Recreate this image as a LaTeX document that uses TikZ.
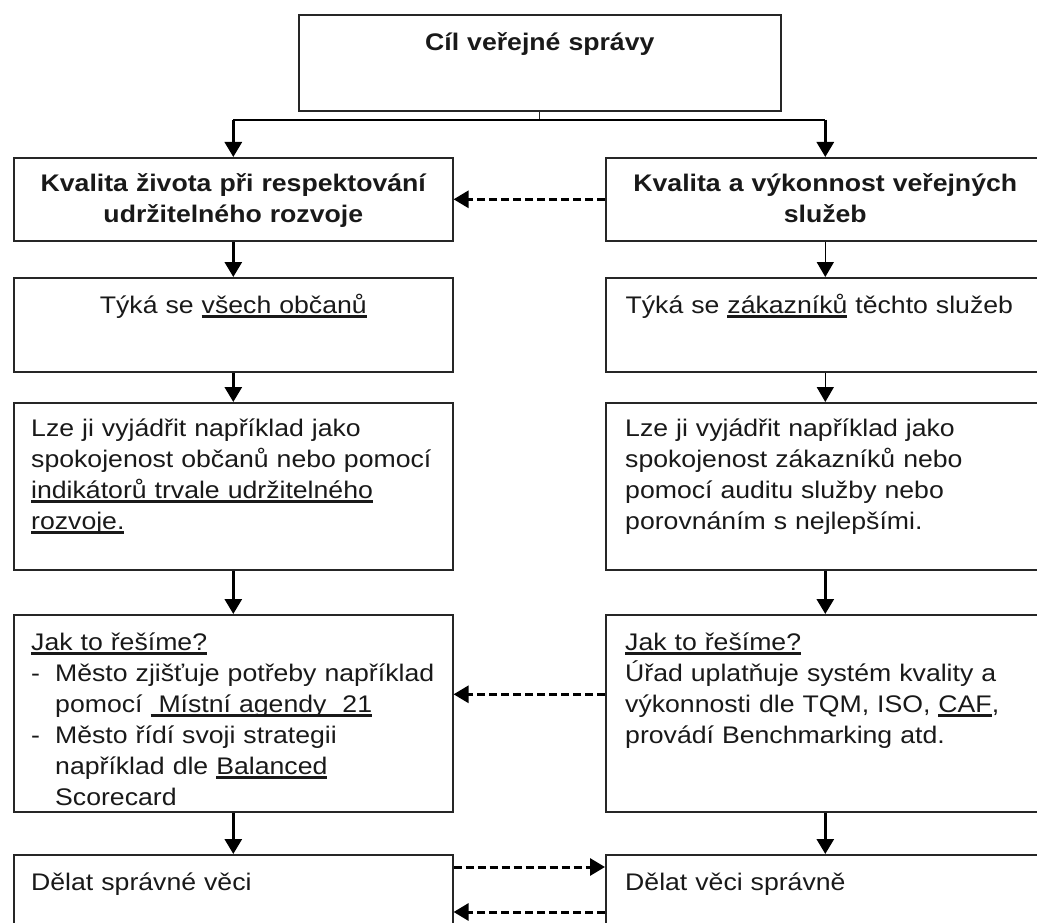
\documentclass[tikz,border=0pt]{standalone}
\usepackage{fontspec}
\setmainfont{Liberation Sans}[FakeStretch=1.11]
\usetikzlibrary{arrows.meta}
\newcommand{\ulx}[1]{\leavevmode\setbox0=\hbox{#1}\rlap{\rule[-4.5pt]{\wd0}{2.2pt}}\box0{}}

\begin{document}
\begin{tikzpicture}[x=1pt,y=-1pt,
  every node/.style={font=\fontsize{24}{31}\selectfont, text=black!90},
  box/.style={draw=black!85, line width=1.6pt, minimum width=439pt, anchor=north west, inner sep=0pt},
  txt/.style={anchor=base west, text width=420pt, align=left, inner sep=0pt},
  ctxt/.style={anchor=base, text width=430pt, align=center, inner sep=0pt},
  btxt/.style={ctxt, font=\fontsize{24}{31}\selectfont\bfseries},
  arr/.style={-{Triangle[width=17pt,length=15pt]}, line width=3pt},
  tarr/.style={arr, line width=1.5pt},
  darr/.style={arr, line width=3pt, dash pattern=on 8pt off 4pt}]
  \useasboundingbox (0,0) rectangle (1037,923);
  \clip (0,0) rectangle (1037,923);

  % boxes
  \node[box, minimum width=482pt, minimum height=96pt] (cil) at (298,14) {};
  \node[box, minimum height=83pt] (l2) at (13,157) {};
  \node[box, minimum height=83pt] (r2) at (605,157) {};
  \node[box, minimum height=94pt] (l3) at (13,277) {};
  \node[box, minimum height=94pt] (r3) at (605,277) {};
  \node[box, minimum height=167pt] (l4) at (13,402) {};
  \node[box, minimum height=167pt] (r4) at (605,402) {};
  \node[box, minimum height=197pt] (l5) at (13,614) {};
  \node[box, minimum height=197pt] (r5) at (605,614) {};
  \node[box, minimum height=110pt] (l6) at (13,854) {};
  \node[box, minimum height=110pt] (r6) at (605,854) {};

  % texts
  \node[btxt] (tcil) at ([yshift=-37pt]cil.north) {Cíl veřejné správy};
  \node[btxt] (tl2) at ([yshift=-35pt]l2.north) {Kvalita života při respektování\\udržitelného rozvoje};
  \node[btxt] (tr2) at ([yshift=-35pt]r2.north) {Kvalita a výkonnost veřejných\\služeb};
  \node[ctxt] (tl3) at ([yshift=-36pt]l3.north) {Týká se \ulx{všech občanů}};
  \node[ctxt] (tr3) at ([xshift=-6pt,yshift=-36pt]r3.north) {Týká se \ulx{zákazníků} těchto služeb};
  \node[txt] (tl4) at ([xshift=18pt,yshift=-34pt]l4.north west)
    {Lze ji vyjádřit například jako\\spokojenost občanů nebo pomocí\\\ulx{indikátorů trvale udržitelného}\\\ulx{rozvoje.}};
  \node[txt] (tr4) at ([xshift=20pt,yshift=-34pt]r4.north west)
    {Lze ji vyjádřit například jako\\spokojenost zákazníků nebo\\pomocí auditu služby nebo\\porovnáním s nejlepšími.};
  \node[txt] (tl5) at ([xshift=18pt,yshift=-36pt]l5.north west)
    {\ulx{Jak to řešíme?}\\
     \makebox[24pt][l]{-}Město zjišťuje potřeby například\\
     \hspace*{24pt}pomocí \ulx{ Místní agendy~~21}\\
     \makebox[24pt][l]{-}Město řídí svoji strategii\\
     \hspace*{24pt}například dle \ulx{Balanced}\\
     \hspace*{24pt}Scorecard};
  \node[txt] (tr5) at ([xshift=20pt,yshift=-36pt]r5.north west)
    {\ulx{Jak to řešíme?}\\Úřad uplatňuje systém kvality a\\výkonnosti dle TQM, ISO, \ulx{CAF},\\provádí Benchmarking atd.};
  \node[txt] (tl6) at ([xshift=18pt,yshift=-36pt]l6.north west) {Dělat správné věci};
  \node[txt] (tr6) at ([xshift=20pt,yshift=-36pt]r6.north west) {Dělat věci správně};

  % connectors
  \draw[line width=1.2pt, draw=black!85] (cil.south) -- ++(0,8) coordinate (jn);
  \draw[line width=2pt] (l2.north |- jn) -- (r2.north |- jn);
  \draw[arr] (l2.north |- jn) -- (l2.north);
  \draw[arr] (r2.north |- jn) -- (r2.north);
  \draw[arr] (l2) -- (l3);
  \draw[tarr] (r2) -- (r3);
  \draw[arr] (l3) -- (l4);
  \draw[tarr] (r3) -- (r4);
  \draw[arr] (l4) -- (l5);
  \draw[arr] (r4) -- (r5);
  \draw[arr] (l5) -- (l6);
  \draw[arr] (r5) -- (r6);

  \draw[darr] (r2.west) -- (l2.east);
  \draw[darr] ([yshift=19pt]r5.west) -- ([yshift=19pt]l5.east);
  \draw[darr] ([yshift=-13pt]l6.north east) -- ([yshift=-13pt]r6.north west);
  \draw[darr] ([yshift=-58pt]r6.north west) -- ([yshift=-58pt]l6.north east);
\end{tikzpicture}
\end{document}
